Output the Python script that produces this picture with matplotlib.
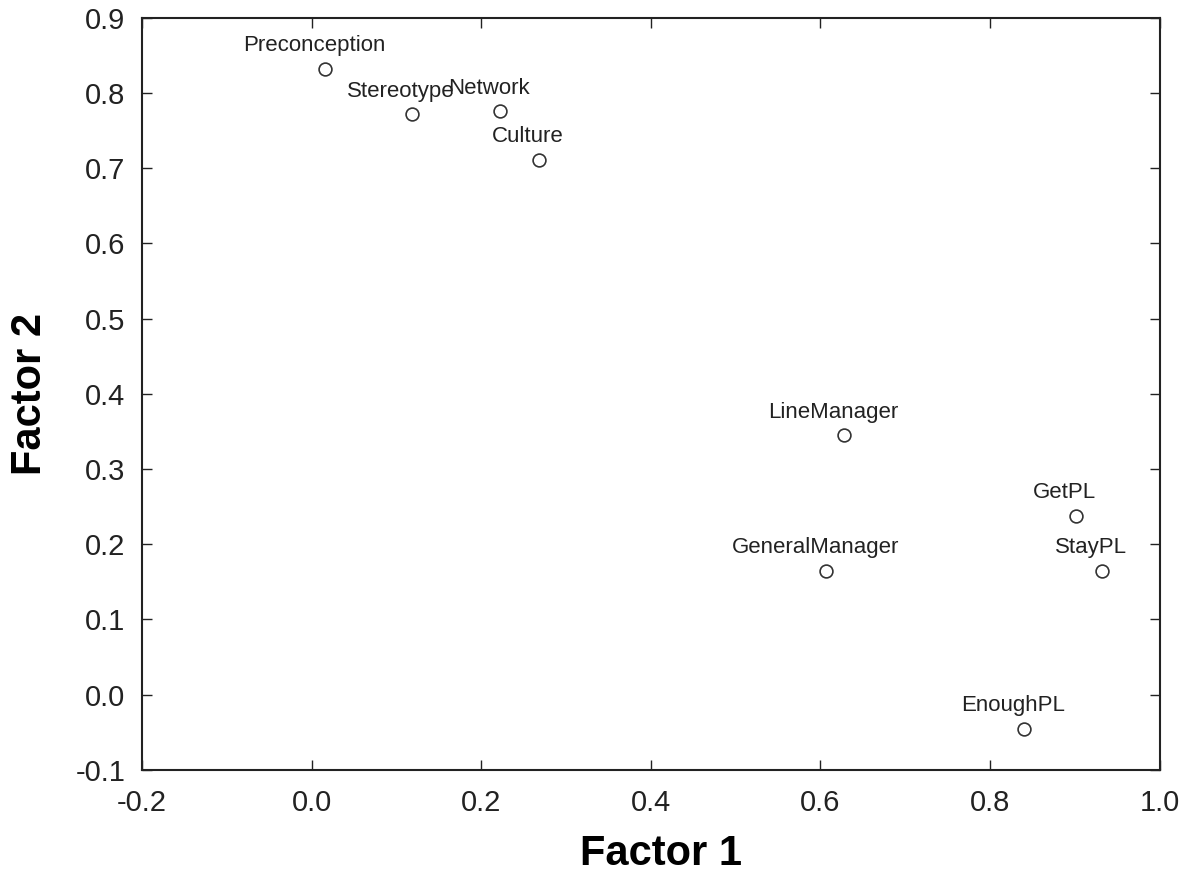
import matplotlib
matplotlib.use("Agg")
import matplotlib.pyplot as plt
from matplotlib.ticker import FormatStrFormatter, MultipleLocator

# factor loadings
names = ["Preconception", "Stereotype", "Network", "Culture", "LineManager",
         "GeneralManager", "GetPL", "StayPL", "EnoughPL"]
factor1 = [0.016, 0.118, 0.222, 0.268, 0.628, 0.607, 0.901, 0.932, 0.840]
factor2 = [0.832, 0.772, 0.776, 0.711, 0.345, 0.165, 0.238, 0.165, -0.045]

plt.rcParams['font.family'] = ['Liberation Sans', 'DejaVu Sans']
plt.rcParams['axes.unicode_minus'] = False

fig = plt.figure(figsize=(11.93, 8.89), dpi=100)
ax = fig.add_axes([0.119, 0.134, 0.853, 0.846])

ax.scatter(factor1, factor2, s=85, facecolors='white', edgecolors='#333333',
           linewidths=1.2, zorder=3)

# labels sit above and a little left of each point
for name, x, y in zip(names, factor1, factor2):
    ax.annotate(name, (x, y), xytext=(-8, 9), textcoords='offset points',
                ha='center', va='bottom', fontsize=16, color='#222222')

ax.set_xlim(-0.2, 1.0)
ax.set_ylim(-0.1, 0.9)
ax.xaxis.set_major_locator(MultipleLocator(0.2))
ax.yaxis.set_major_locator(MultipleLocator(0.1))
ax.xaxis.set_major_formatter(FormatStrFormatter('%.1f'))
ax.yaxis.set_major_formatter(FormatStrFormatter('%.1f'))
ax.tick_params(direction='in', top=True, right=True, length=7, width=1,
               labelsize=21, colors='#222222')
ax.tick_params(axis='x', pad=14)
ax.tick_params(axis='y', pad=12)
for sp in ax.spines.values():
    sp.set_linewidth(1.5)
    sp.set_color('#222222')

ax.set_xlabel('Factor 1', fontsize=30, fontweight='bold', labelpad=8)
ax.set_ylabel('Factor 2', fontsize=30, fontweight='bold', labelpad=18)
ax.xaxis.set_label_coords(0.51, -0.085)

fig.savefig('out.png', dpi=100)
